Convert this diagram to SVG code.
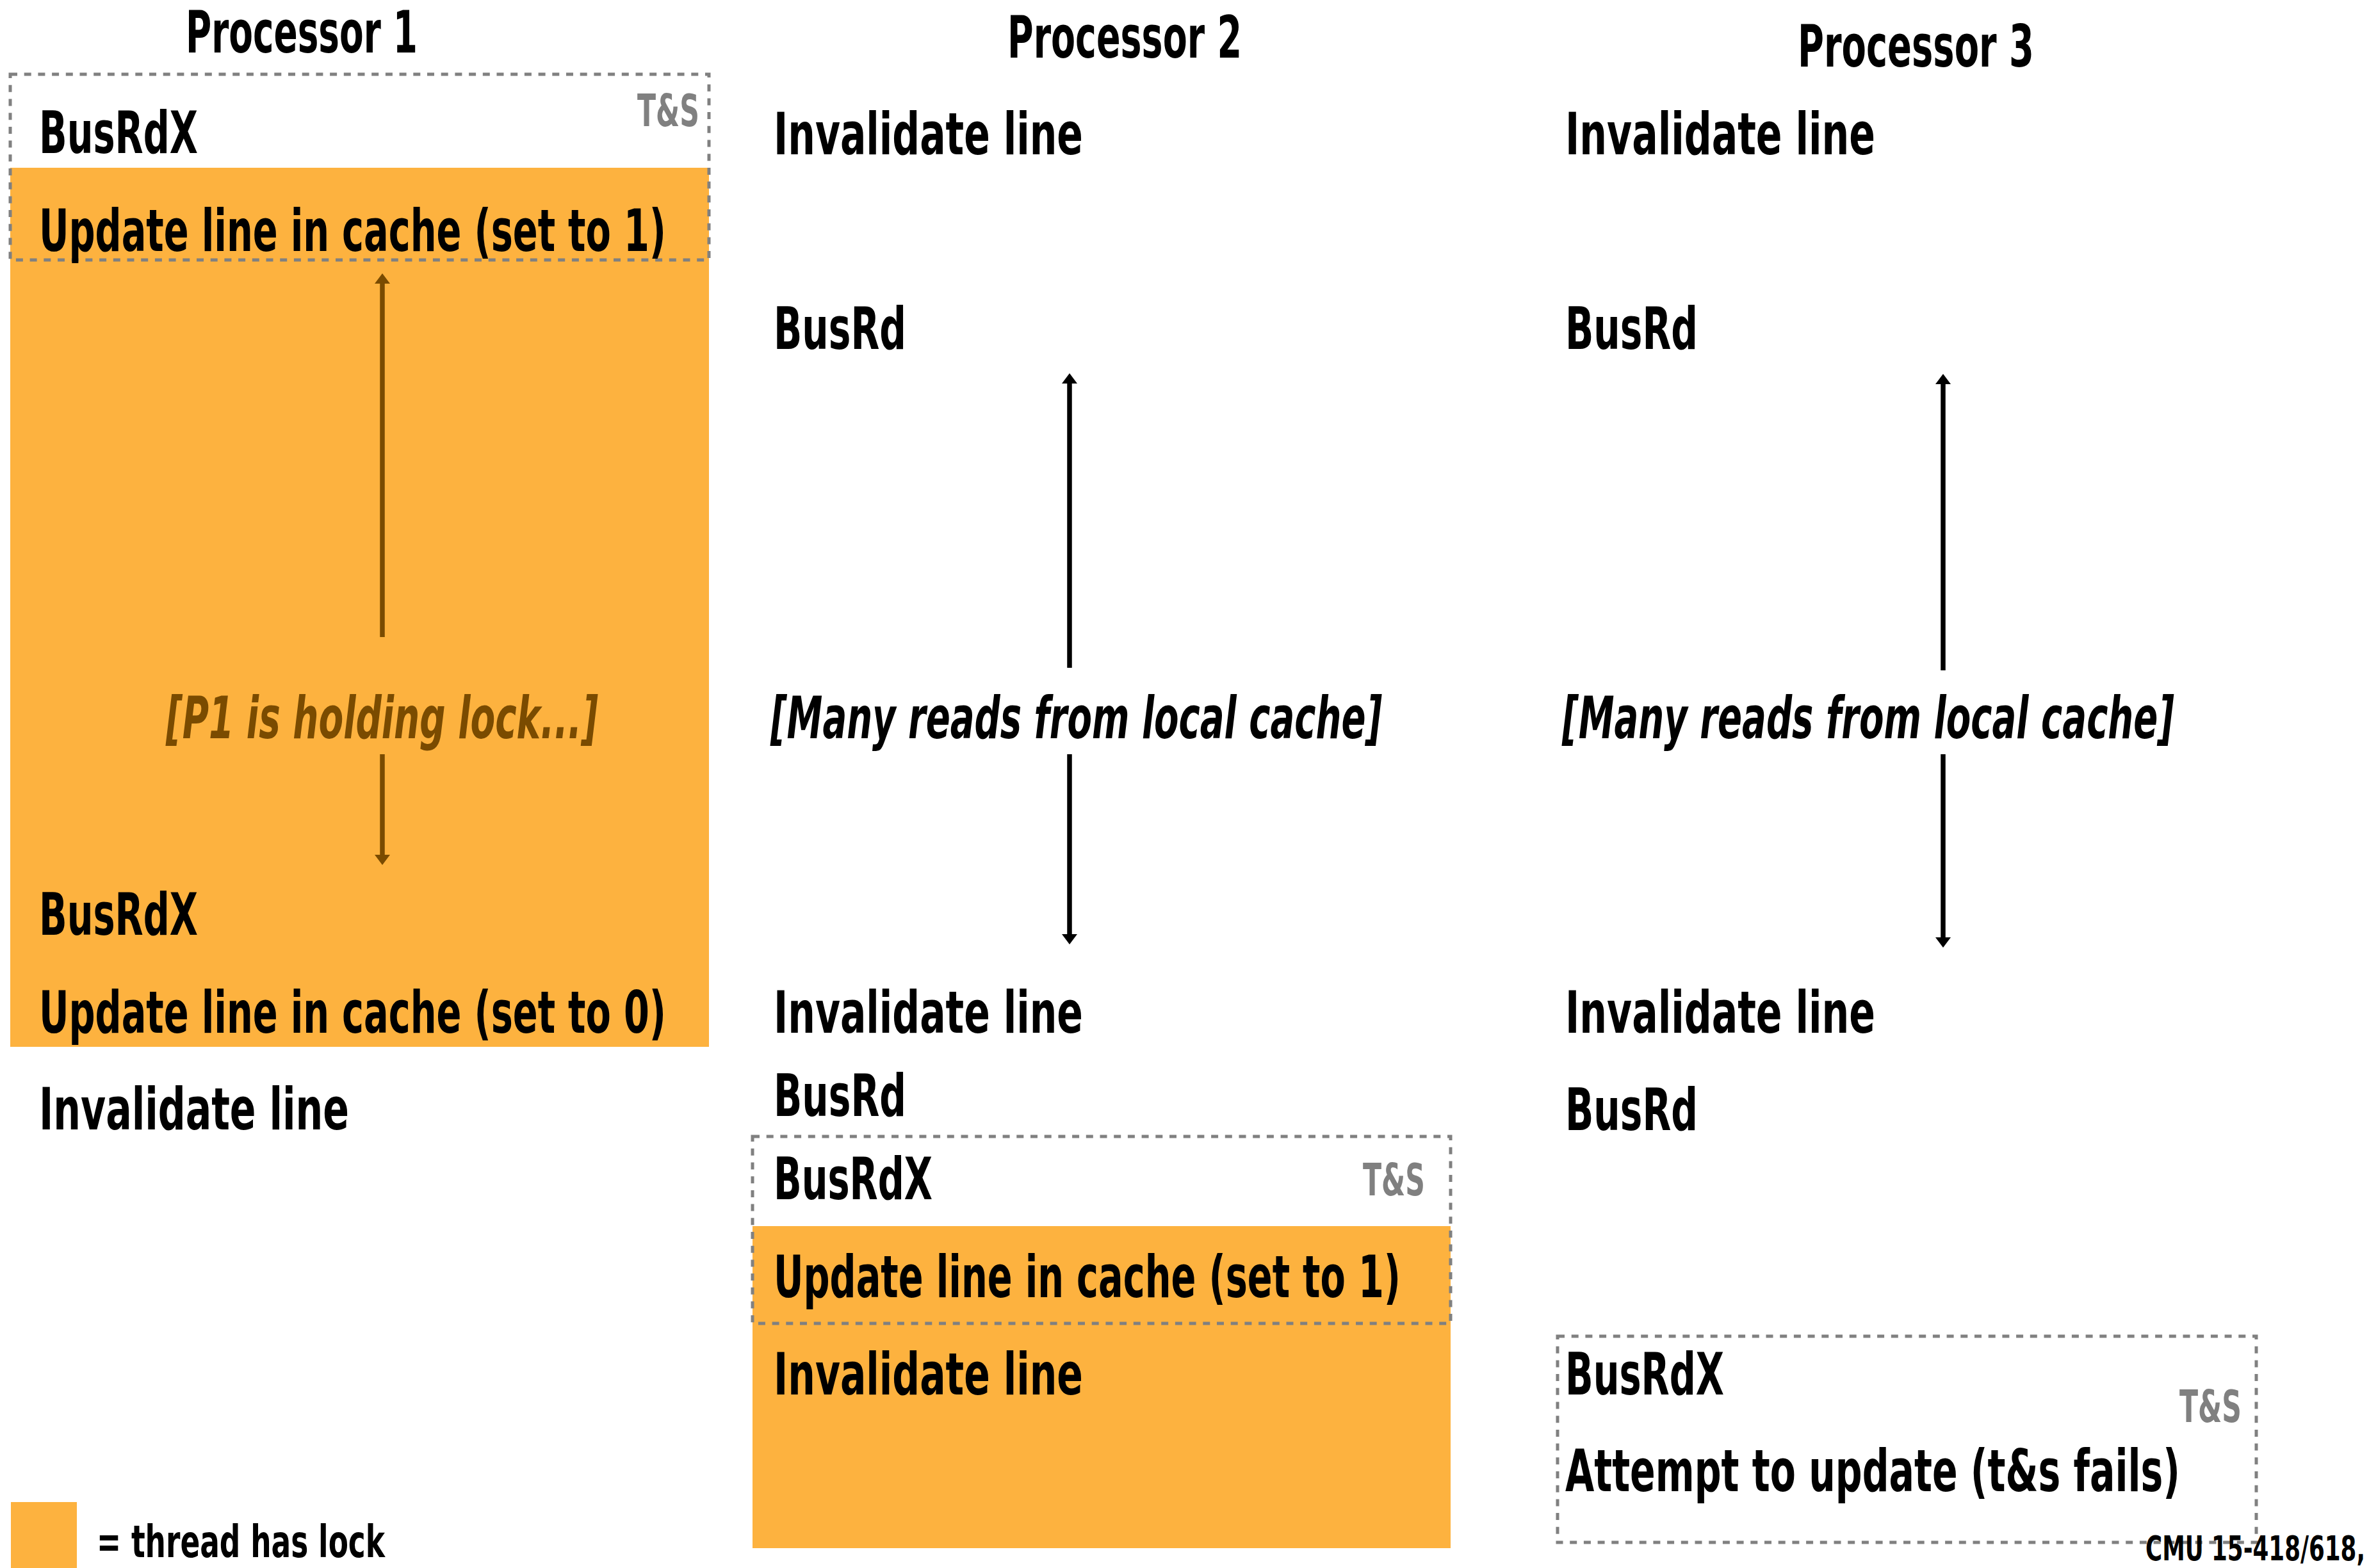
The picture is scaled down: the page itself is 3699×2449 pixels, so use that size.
<svg xmlns="http://www.w3.org/2000/svg" width="3699" height="2449" viewBox="0 0 3699 2449">
<style>
.t{font-family:"Liberation Sans Narrow","DejaVu Sans Condensed","Liberation Sans",sans-serif;font-weight:bold;font-stretch:condensed;font-size:90px;fill:#000}
.i{font-style:italic}
.br{fill:#7A4B00}
.ts{font-size:70px;fill:#808080}
.lg{font-size:70px}
.cmu{font-size:54px}
.lock{fill:#FDB23F}
.tas{fill:none;stroke:#808080;stroke-width:5;stroke-dasharray:11 10.7}
.arB{stroke:#000;stroke-width:7.5;fill:none}
.arN{stroke:#7A4B00;stroke-width:7.5;fill:none}
</style>
<defs>
<marker id="hB" markerUnits="userSpaceOnUse" markerWidth="16" markerHeight="24" refX="0" refY="12" orient="auto" viewBox="0 0 16 24">
<polygon points="0,0 16,12 0,24" fill="#000"/>
</marker>
<marker id="hN" markerUnits="userSpaceOnUse" markerWidth="16" markerHeight="24" refX="0" refY="12" orient="auto" viewBox="0 0 16 24">
<polygon points="0,0 16,12 0,24" fill="#7A4B00"/>
</marker>
</defs>
<rect width="3699" height="2449" fill="#fff"/>

<g id="lock-regions">
<rect class="lock" x="16" y="262" width="1091" height="1373"/>
<rect class="lock" x="1175" y="1915" width="1090" height="503"/>
</g>

<g id="headers">
<text class="t" x="290" y="82" textLength="362" lengthAdjust="spacingAndGlyphs">Processor 1</text>
<text class="t" x="1573" y="90" textLength="366" lengthAdjust="spacingAndGlyphs">Processor 2</text>
<text class="t" x="2807" y="104" textLength="369" lengthAdjust="spacingAndGlyphs">Processor 3</text>
</g>

<g id="p1">
<g id="p1-ts">
<rect class="tas" x="16" y="116" width="1091" height="290"/>
<text class="t ts" x="995" y="197" textLength="97" lengthAdjust="spacingAndGlyphs">T&amp;S</text>
<text class="t" x="61" y="239" textLength="248" lengthAdjust="spacingAndGlyphs">BusRdX</text>
<text class="t" x="61" y="392" textLength="979" lengthAdjust="spacingAndGlyphs">Update line in cache (set to 1)</text>
</g>
<text id="p1-hold" class="t i br" x="259" y="1153" textLength="675" lengthAdjust="spacingAndGlyphs">[P1 is holding lock...]</text>
<text id="p1-busrdx2" class="t" x="61" y="1460" textLength="248" lengthAdjust="spacingAndGlyphs">BusRdX</text>
<text id="p1-update0" class="t" x="61" y="1613" textLength="979" lengthAdjust="spacingAndGlyphs">Update line in cache (set to 0)</text>
<text id="p1-inv" class="t" x="61" y="1764" textLength="484" lengthAdjust="spacingAndGlyphs">Invalidate line</text>
</g>

<g id="p2">
<text id="p2-inv1" class="t" x="1208" y="241" textLength="483" lengthAdjust="spacingAndGlyphs">Invalidate line</text>
<text id="p2-busrd1" class="t" x="1208" y="545" textLength="207" lengthAdjust="spacingAndGlyphs">BusRd</text>
<text id="p2-many" class="t i" x="1203" y="1153" textLength="955" lengthAdjust="spacingAndGlyphs">[Many reads from local cache]</text>
<text id="p2-inv2" class="t" x="1208" y="1613" textLength="483" lengthAdjust="spacingAndGlyphs">Invalidate line</text>
<text id="p2-busrd2" class="t" x="1208" y="1743" textLength="207" lengthAdjust="spacingAndGlyphs">BusRd</text>
<g id="p2-ts">
<rect class="tas" x="1175" y="1775" width="1090" height="292"/>
<text class="t" x="1208" y="1873" textLength="248" lengthAdjust="spacingAndGlyphs">BusRdX</text>
<text class="t ts" x="2128" y="1867" textLength="97" lengthAdjust="spacingAndGlyphs">T&amp;S</text>
<text class="t" x="1208" y="2026" textLength="979" lengthAdjust="spacingAndGlyphs">Update line in cache (set to 1)</text>
</g>
<text id="p2-inv3" class="t" x="1208" y="2178" textLength="483" lengthAdjust="spacingAndGlyphs">Invalidate line</text>
</g>

<g id="p3">
<text id="p3-inv1" class="t" x="2444" y="241" textLength="484" lengthAdjust="spacingAndGlyphs">Invalidate line</text>
<text id="p3-busrd1" class="t" x="2444" y="545" textLength="207" lengthAdjust="spacingAndGlyphs">BusRd</text>
<text id="p3-many" class="t i" x="2439" y="1153" textLength="956" lengthAdjust="spacingAndGlyphs">[Many reads from local cache]</text>
<text id="p3-inv2" class="t" x="2444" y="1613" textLength="484" lengthAdjust="spacingAndGlyphs">Invalidate line</text>
<text id="p3-busrd2" class="t" x="2444" y="1765" textLength="207" lengthAdjust="spacingAndGlyphs">BusRd</text>
<g id="p3-ts">
<rect class="tas" x="2432" y="2087" width="1091" height="322"/>
<text class="t" x="2444" y="2178" textLength="248" lengthAdjust="spacingAndGlyphs">BusRdX</text>
<text class="t ts" x="3403" y="2221" textLength="97" lengthAdjust="spacingAndGlyphs">T&amp;S</text>
<text class="t" x="2444" y="2329" textLength="960" lengthAdjust="spacingAndGlyphs">Attempt to update (t&amp;s fails)</text>
</g>
</g>

<g id="connectors">
<line class="arN" x1="597" y1="995" x2="597" y2="443" marker-end="url(#hN)"/>
<line class="arN" x1="597" y1="1178" x2="597" y2="1335" marker-end="url(#hN)"/>
<line class="arB" x1="1670" y1="1043" x2="1670" y2="599" marker-end="url(#hB)"/>
<line class="arB" x1="1670" y1="1178" x2="1670" y2="1459" marker-end="url(#hB)"/>
<line class="arB" x1="3034" y1="1047" x2="3034" y2="600" marker-end="url(#hB)"/>
<line class="arB" x1="3034" y1="1178" x2="3034" y2="1464" marker-end="url(#hB)"/>
</g>

<g id="legend">
<rect class="lock" x="17" y="2346" width="103" height="103"/>
<text class="t lg" x="151" y="2432" textLength="450" lengthAdjust="spacingAndGlyphs">= thread has lock</text>
</g>

<text id="footer" class="t cmu" x="3350" y="2437" textLength="343" lengthAdjust="spacingAndGlyphs">CMU 15-418/618,</text>
</svg>
